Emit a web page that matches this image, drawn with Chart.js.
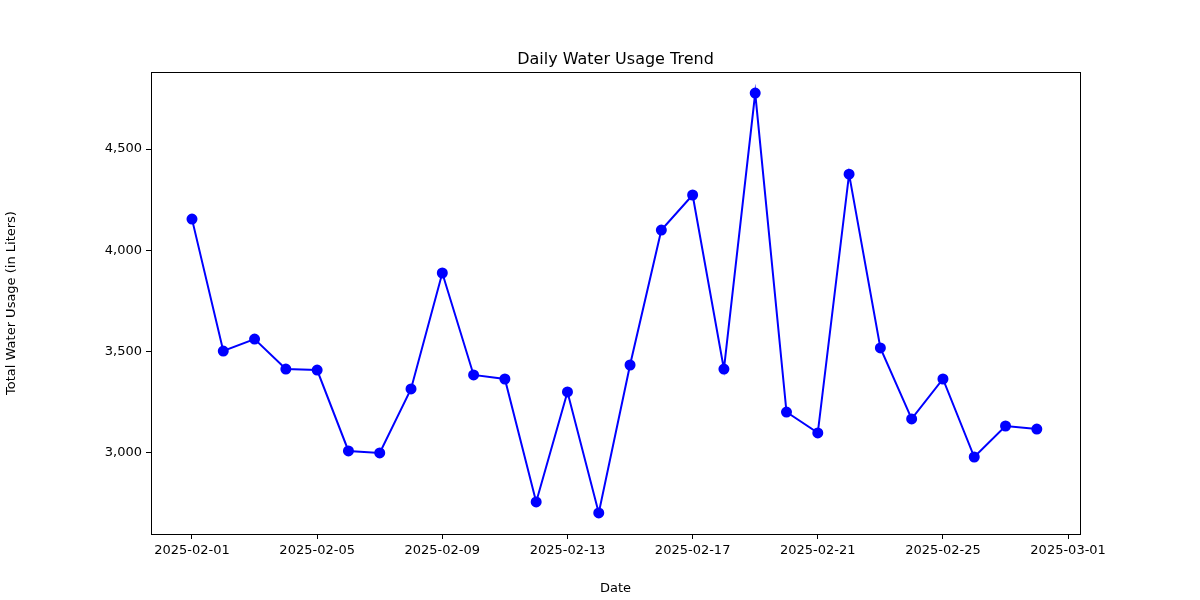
<!DOCTYPE html>
<html>
<head>
<meta charset="utf-8">
<script src="https://cdn.jsdelivr.net/npm/chart.js@4"></script>
<style>
  html, body { margin: 0; padding: 0; background: #fff; }
  #wrap { width: 1200px; height: 600px; }
</style>
</head>
<body>
<div id="wrap"><canvas id="usageChart"></canvas></div>
<script>
// ─── Data ─────────────────────────────────────────────────────────────────
const startDate = new Date(Date.UTC(2025, 1, 1));
const dayOffsets = Array.from({ length: 28 }, (_, i) => i);
const usageLiters = [
  4154, 3503, 3562, 3414, 3409, 3010, 3000, 3316, 3888, 3385,
  3365, 2758, 3301, 2704, 3434, 4100, 4273, 3414, 4776, 3202,
  3099, 4376, 3518, 3168, 3365, 2980, 3133, 3118
];
const xTickDays = [0, 4, 8, 12, 16, 20, 24, 28];
const yTickValues = [3000, 3500, 4000, 4500];

function dayLabel(d) {
  const dt = new Date(startDate.getTime() + d * 86400000);
  return dt.toISOString().slice(0, 10);
}

const font = { family: 'DejaVu Sans', size: 13 };

// frame + title drawn like matplotlib
const framePlugin = {
  id: 'frame',
  afterDraw(chart) {
    const { ctx, chartArea: a } = chart;
    ctx.save();
    ctx.strokeStyle = '#000';
    ctx.lineWidth = 1;
    ctx.strokeRect(a.left + 0.5, a.top + 0.5, a.right - a.left, a.bottom - a.top);
    ctx.fillStyle = '#000';
    ctx.font = '16px "DejaVu Sans"';
    ctx.textAlign = 'center';
    ctx.textBaseline = 'alphabetic';
    ctx.fillText('Daily Water Usage Trend', (a.left + a.right) / 2, 64);
    ctx.restore();
  }
};

new Chart(document.getElementById('usageChart'), {
  type: 'line',
  data: {
    datasets: [{
      label: 'Total Water Usage',
      data: dayOffsets.map((d, i) => ({ x: d, y: usageLiters[i] })),
      borderColor: '#0000ff',
      backgroundColor: '#0000ff',
      borderWidth: 2,
      pointRadius: 4.5,
      pointHoverRadius: 4.5,
      tension: 0,
    }]
  },
  options: {
    responsive: true,
    maintainAspectRatio: false,
    animation: false,
    layout: { padding: { left: 0, right: 120, top: 72, bottom: 0 } },
    plugins: { legend: { display: false }, tooltip: { enabled: false } },
    scales: {
      x: {
        type: 'linear',
        min: -1.31,
        max: 28.38,
        afterBuildTicks: s => { s.ticks = xTickDays.map(v => ({ value: v })); },
        afterFit: s => { s.height = 66; },
        ticks: { color: '#000', font, maxRotation: 0, padding: 4, callback: v => dayLabel(v) },
        grid: { drawOnChartArea: false, drawTicks: true, tickLength: 5, color: '#000' },
        border: { display: false },
        title: { display: true, text: 'Date', color: '#000', font, padding: { top: 0 } },
      },
      y: {
        min: 2600,
        max: 4880,
        afterBuildTicks: s => { s.ticks = yTickValues.map(v => ({ value: v })); },
        afterFit: s => { s.width = 151; },
        ticks: { color: '#000', font, padding: 4 },
        grid: { drawOnChartArea: false, drawTicks: true, tickLength: 5, color: '#000' },
        border: { display: false },
        title: { display: true, text: 'Total Water Usage (in Liters)', color: '#000', font, padding: { bottom: 6 } },
      }
    }
  },
  plugins: [framePlugin]
});
</script>
</body>
</html>
